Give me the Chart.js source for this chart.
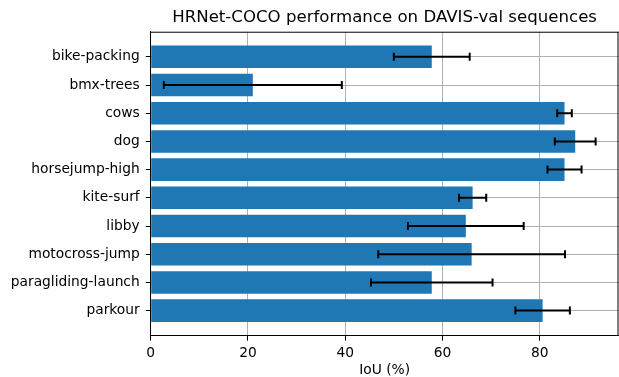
<!DOCTYPE html>
<html>
<head>
<meta charset="utf-8">
<script src="https://cdn.jsdelivr.net/npm/chart.js@4"></script>
<style>
  body { margin: 0; background: #fff; }
  #wrap { width: 619px; height: 377px; }
</style>
</head>
<body>
<div id="wrap"><canvas id="iouChart"></canvas></div>
<script>
// sequences and per-sequence IoU (mean / std)
var categories = ['bike-packing', 'bmx-trees', 'cows', 'dog', 'horsejump-high',
    'kite-surf', 'libby', 'motocross-jump', 'paragliding-launch', 'parkour'];
var iouMean = [57.8, 21.0, 85.1, 87.3, 85.1, 66.2, 64.8, 66.0, 57.8, 80.6];
var iouStd = [7.8, 18.3, 1.5, 4.2, 3.5, 2.8, 11.9, 19.2, 12.5, 5.6];
var xTicks = [0, 20, 40, 60, 80];
var xMax = 96.2;

Chart.defaults.font.family = '"DejaVu Sans", sans-serif';
Chart.defaults.color = '#000';

//error bars + top/right spines
var errorBars = {
    id: 'errorBars',
    afterLayout: function (chart) {
        // center title over the axes like matplotlib
        chart.titleBlock.left = chart.chartArea.left;
        chart.titleBlock.right = chart.chartArea.right;
    },
    afterDraw: function (chart) {
        var ctx = chart.ctx;
        var xs = chart.scales.x, ys = chart.scales.y;
        var area = chart.chartArea;
        ctx.save();
        ctx.strokeStyle = '#000';
        ctx.lineWidth = 2;
        iouMean.forEach(function (m, i) {
            var y = ys.getPixelForValue(i);
            var x0 = xs.getPixelForValue(m - iouStd[i]);
            var x1 = xs.getPixelForValue(m + iouStd[i]);
            ctx.beginPath();
            ctx.moveTo(x0, y);
            ctx.lineTo(x1, y);
            ctx.moveTo(x0, y - 4);
            ctx.lineTo(x0, y + 4);
            ctx.moveTo(x1, y - 4);
            ctx.lineTo(x1, y + 4);
            ctx.stroke();
        });
        ctx.lineWidth = 1;
        ctx.beginPath();
        ctx.moveTo(area.left, area.top + 0.5);
        ctx.lineTo(area.right, area.top + 0.5);
        ctx.moveTo(area.right - 0.5, area.top);
        ctx.lineTo(area.right - 0.5, area.bottom);
        ctx.stroke();
        ctx.restore();
    }
};

var ctx = document.getElementById('iouChart').getContext('2d');
var iouChart = new Chart(ctx, {
    type: 'bar',
    data: {
        datasets: [{
            label: 'IoU',
            data: iouMean.map(function (v, i) { return { x: v, y: i }; }),
            backgroundColor: '#1f77b4',
            borderWidth: 0,
            barPercentage: 0.8,
            categoryPercentage: 1.0
        }]
    },
    options: {
        indexAxis: 'y',
        responsive: true,
        maintainAspectRatio: false,
        animation: false,
        devicePixelRatio: 1,
        layout: { padding: { right: 0.5 } },
        plugins: {
            legend: { display: false },
            tooltip: { enabled: false },
            title: {
                display: true,
                text: 'HRNet-COCO performance on DAVIS-val sequences',
                font: { size: 16.6, weight: 'normal' },
                padding: { top: 8, bottom: 3.8 }
            }
        },
        scales: {
            x: {
                type: 'linear',
                min: 0,
                max: xMax,
                z: 1,
                afterBuildTicks: function (scale) {
                    scale.ticks = xTicks.map(function (v) { return { value: v }; });
                },
                afterFit: function (scale) { scale.height = 41.3; },
                ticks: { font: { size: 13.8 }, padding: 4, maxRotation: 0 },
                grid: { color: '#b0b0b0', lineWidth: 1, tickColor: '#000', tickLength: 5 },
                border: { color: '#000', width: 1 },
                title: {
                    display: true,
                    text: 'IoU (%)',
                    font: { size: 13.8 },
                    padding: { top: 0, bottom: -2 }
                }
            },
            y: {
                type: 'linear',
                reverse: true,
                offset: false,
                min: -0.89,
                max: 9.89,
                z: 1,
                afterBuildTicks: function (scale) {
                    scale.ticks = categories.map(function (c, i) { return { value: i }; });
                },
                afterFit: function (scale) { scale.width = 150.7; },
                ticks: {
                    font: { size: 13.8 },
                    padding: 6,
                    callback: function (v) { return categories[v]; }
                },
                grid: { offset: false, color: '#b0b0b0', lineWidth: 1, tickColor: '#000', tickLength: 5 },
                border: { color: '#000', width: 1 }
            }
        }
    },
    plugins: [errorBars]
});
</script>
</body>
</html>
